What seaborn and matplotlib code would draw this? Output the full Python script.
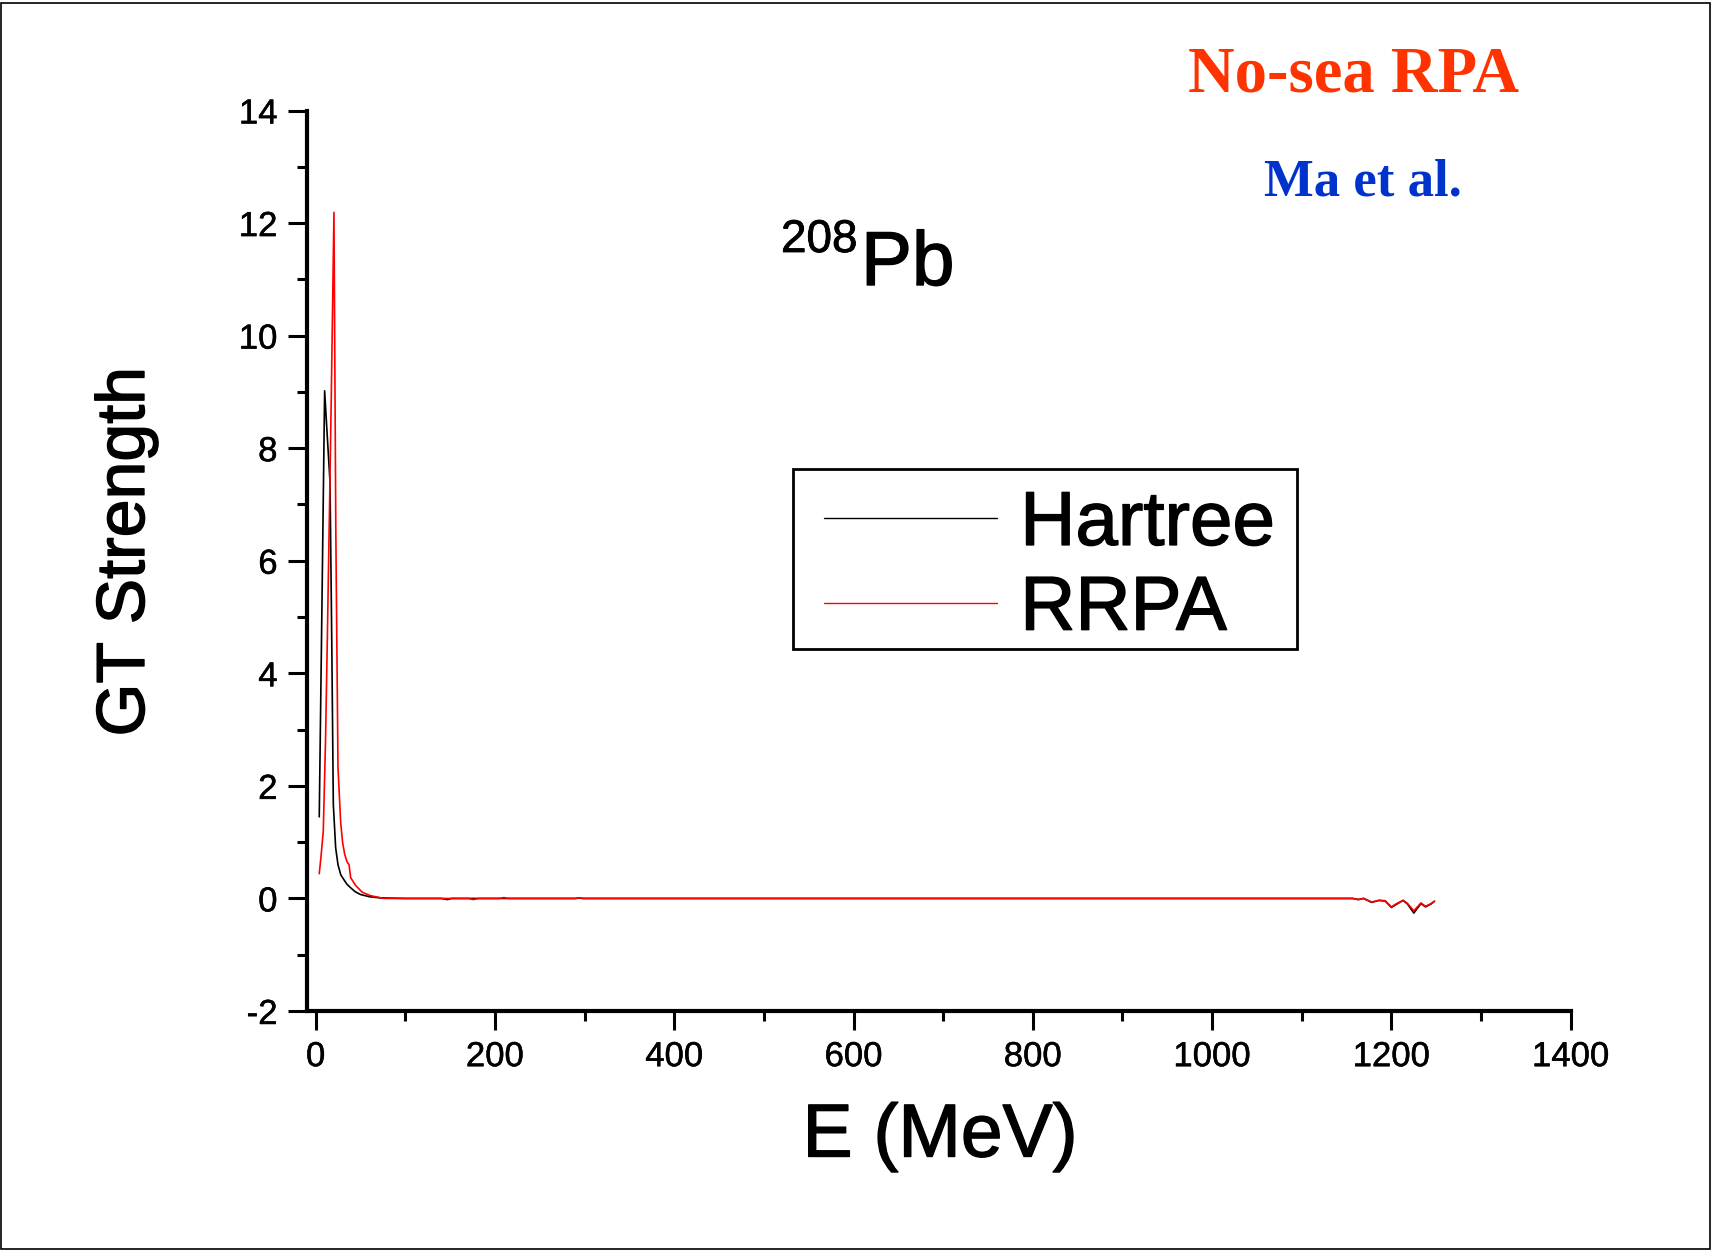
import numpy as np
import pandas as pd
import matplotlib
matplotlib.use("Agg")
import matplotlib.pyplot as plt
import matplotlib.patheffects as pe
from matplotlib.ticker import MultipleLocator
from matplotlib.patches import Rectangle
from matplotlib.lines import Line2D
import seaborn as sns

# ---- data ----
hartree_E = [4, 7, 10, 13, 16, 18, 19.7, 22.3, 24.9, 28, 31.6, 35, 39, 44, 50, 60, 72, 100,
             140, 147, 152, 200, 290, 294, 298, 600, 900, 1150, 1157, 1163, 1169, 1178, 1186,
             1193, 1200, 1205, 1213, 1218, 1225, 1233, 1238, 1244, 1248]
hartree_S = [1.45, 5.2, 9.02, 8.2, 7.4, 4.5, 1.67, 0.9, 0.6, 0.42, 0.33, 0.25, 0.19, 0.12, 0.07, 0.03, 0.01, 0.0,
             0.0, -0.02, 0.0, 0.0, 0.0, 0.01, 0.0, 0.0, 0.0, 0.0, 0.0, -0.02, 0.0, -0.07, -0.035,
             -0.045, -0.16, -0.11, -0.035, -0.1, -0.26, -0.09, -0.15, -0.1, -0.05]

rrpa_E = [4, 6, 8.5, 11, 13, 15.5, 17.5, 20.4, 22.5, 24.9, 27.9, 30, 32.3, 35, 37.2, 39, 44.6, 52,
          61, 76, 100, 170, 176, 182, 205, 210, 215, 290, 294, 298, 600, 900, 1150, 1157, 1163,
          1169, 1178, 1186, 1193, 1200, 1205, 1213, 1218, 1225, 1233, 1238, 1244, 1248]
rrpa_S = [0.44, 0.75, 1.2, 2.8, 4.6, 7.0, 9.0, 12.19, 6.5, 2.33, 1.35, 1.0, 0.79, 0.65, 0.6, 0.37, 0.23, 0.11,
          0.05, 0.0, 0.0, 0.0, -0.02, 0.0, 0.0, 0.015, 0.0, 0.0, 0.012, 0.0, 0.0, 0.0, 0.0, 0.0, -0.02,
          0.0, -0.065, -0.035, -0.04, -0.15, -0.1, -0.035, -0.09, -0.22, -0.08, -0.14, -0.095, -0.05]

series_names = ["Hartree", "RRPA"]
series_colors = ["black", "#FF0000"]

x_ticks = [0, 200, 400, 600, 800, 1000, 1200, 1400]
y_ticks = [-2, 0, 2, 4, 6, 8, 10, 12, 14]

df = pd.concat([
    pd.DataFrame({"E": hartree_E, "S": hartree_S, "series": series_names[0]}),
    pd.DataFrame({"E": rrpa_E, "S": rrpa_S, "series": series_names[1]}),
], ignore_index=True)

sns.set_style("ticks")
plt.rcParams['font.family'] = ['Liberation Sans', 'DejaVu Sans']
plt.rcParams['text.color'] = 'black'
plt.rcParams['axes.unicode_minus'] = False

W, H = 1715, 1251
fig = plt.figure(figsize=(W / 100, H / 100), dpi=100)
ax = fig.add_axes([306.7 / W, 1 - 1011 / H, (1570.7 - 306.7) / W, (1011 - 110.5) / H])

sns.lineplot(data=df, x="E", y="S", hue="series", palette=dict(zip(series_names, series_colors)),
             sort=False, estimator=None, linewidth=1.2, ax=ax, legend=False)

ax.set_xlim(-10, 1400)
ax.set_ylim(-2, 14)
ax.set_xticks(x_ticks)
ax.set_yticks(y_ticks)
ax.xaxis.set_minor_locator(MultipleLocator(100))
ax.yaxis.set_minor_locator(MultipleLocator(1))
ax.tick_params(axis='both', which='major', direction='out', length=14, width=2.2,
               labelsize=25, colors='black', pad=7)
ax.tick_params(axis='both', which='minor', direction='out', length=7.5, width=2.2, colors='black')
for s in ['top', 'right']:
    ax.spines[s].set_visible(False)
for s in ['left', 'bottom']:
    ax.spines[s].set_linewidth(3)
    ax.spines[s].set_color('black')

thin = [pe.withStroke(linewidth=0.35, foreground='black')]
thick = [pe.withStroke(linewidth=1.0, foreground='black')]
for lab in ax.get_xticklabels() + ax.get_yticklabels():
    lab.set_path_effects(thin)

ax.set_xlabel("")
ax.set_ylabel("")
fig.text(940 / W, 1 - 1137 / H, "E (MeV)", fontsize=54, ha='center', va='center', path_effects=thick)
fig.text(126 / W, 1 - 552 / H, "GT Strength", fontsize=49, ha='center', va='center', rotation=90,
         path_effects=thick)

# 208Pb
fig.text(781 / W, 1 - 252 / H, "208", fontsize=33, ha='left', va='baseline',
         path_effects=[pe.withStroke(linewidth=0.6, foreground='black')])
fig.text(861 / W, 1 - 285 / H, "Pb", fontsize=55, ha='left', va='baseline', path_effects=thick)

fig.text(1354 / W, 1 - 92 / H, "No-sea RPA", fontsize=46.5, ha='center', va='baseline',
         color='#FF3300', family='Liberation Serif', weight='bold')
fig.text(1363 / W, 1 - 196 / H, "Ma et al.", fontsize=38, ha='center', va='baseline',
         color='#0033CC', family='Liberation Serif', weight='bold')

# legend (frame drawn separately as a plain box)
handles = [Line2D([], [], color=c, lw=1.0) for c in series_colors]
leg = fig.legend(handles, series_names, loc='upper left',
                 bbox_to_anchor=(801 / W, 1 - 467 / H), fontsize=55, frameon=False,
                 handlelength=2.27, borderpad=0.3, labelspacing=0.18, handletextpad=0.3,
                 borderaxespad=0)
for t in leg.get_texts():
    t.set_path_effects(thick)
fig.patches.append(Rectangle((793 / W, 1 - 649 / H), (1297 - 793) / W, (649 - 469) / H,
                             transform=fig.transFigure, fill=True, facecolor='white',
                             edgecolor='black', linewidth=2, zorder=4))
leg.set_zorder(5)

fig.patches.append(Rectangle((1 / W, 2 / H), 1709 / W, 1246 / H, transform=fig.transFigure,
                             fill=False, edgecolor='black', linewidth=1.2))

fig.savefig("out.png", dpi=100, facecolor='white')
